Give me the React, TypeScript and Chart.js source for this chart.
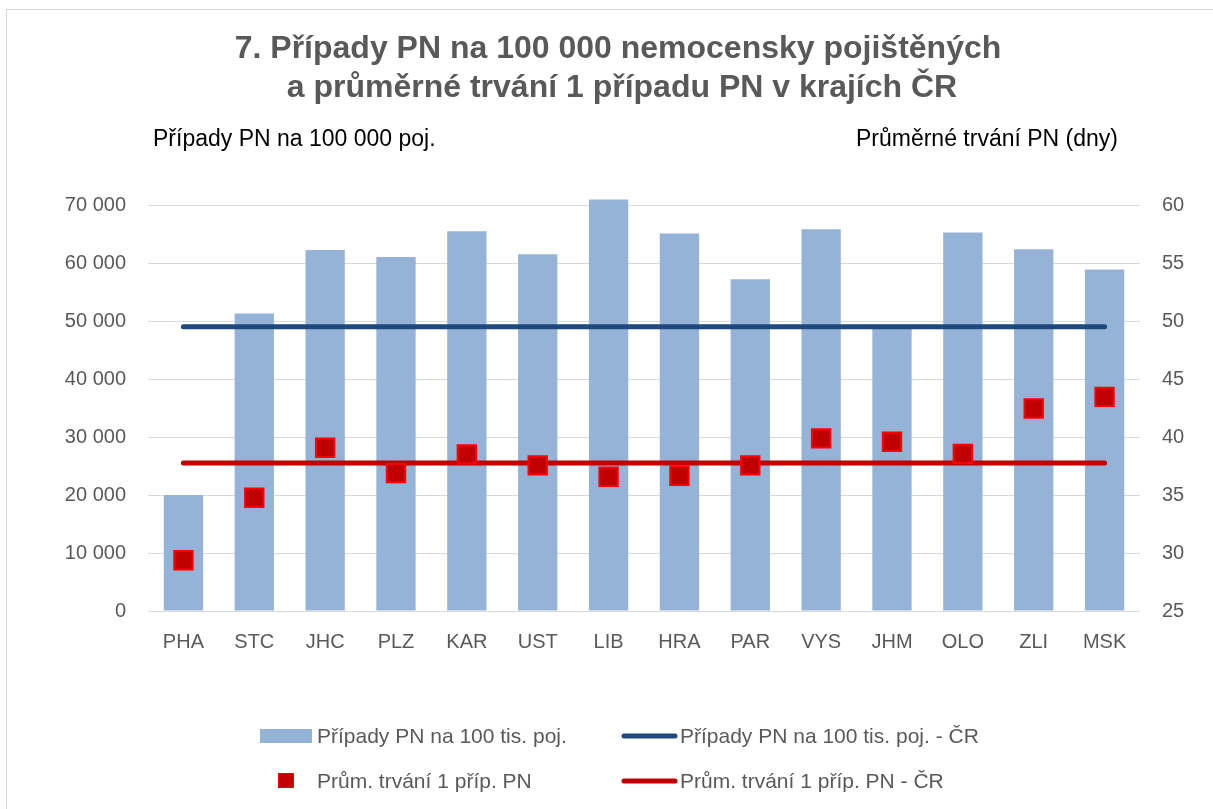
import React, { useEffect, useRef } from "react";
import { Chart, registerables } from "chart.js";

Chart.register(...registerables);

const categories = ["PHA", "STC", "JHC", "PLZ", "KAR", "UST", "LIB", "HRA", "PAR", "VYS", "JHM", "OLO", "ZLI", "MSK"];
const casesPer100k = [19980, 51300, 62250, 61050, 65470, 61510, 70930, 65070, 57200, 65820, 48900, 65240, 62370, 58870];
const casesCR = [49000, 49000, 49000, 49000, 49000, 49000, 49000, 49000, 49000, 49000, 49000, 49000, 49000, 49000];
const avgDuration = [29.37, 34.76, 39.07, 36.89, 38.5, 37.55, 36.57, 36.66, 37.55, 39.88, 39.59, 38.55, 42.46, 43.46];
const durationCR = [37.75, 37.75, 37.75, 37.75, 37.75, 37.75, 37.75, 37.75, 37.75, 37.75, 37.75, 37.75, 37.75, 37.75];

const titleLines = ["7. Případy PN na 100 000 nemocensky pojištěných", "a průměrné trvání 1 případu PN v krajích ČR"];
const leftAxisTitle = "Případy PN na 100 000 poj.";
const rightAxisTitle = "Průměrné trvání PN (dny)";
const seriesLabels = [
  "Případy PN na 100 tis. poj.",
  "Případy PN na 100 tis. poj. - ČR",
  "Prům. trvání 1 příp. PN",
  "Prům. trvání 1 příp. PN - ČR",
];

const FONT = "'Liberation Sans', Arial, sans-serif";
const TEXT = "#595959";
const BAR = "#95B3D7";
const BLUE = "#1F497D";
const RED = "#C00000";

const fmt = (v: number) => String(v).replace(/\B(?=(\d{3})+(?!\d))/g, " ");

const textPlugin = {
  id: "texts",
  afterDraw(chart: any) {
    const ctx = chart.ctx as CanvasRenderingContext2D;
    ctx.save();
    // Title
    ctx.fillStyle = TEXT;
    ctx.textAlign = "center";
    ctx.textBaseline = "alphabetic";
    ctx.font = `bold 32px ${FONT}`;
    ctx.fillText(titleLines[0], 618, 58);
    ctx.fillText(titleLines[1], 622, 97);
    // Axis titles
    ctx.fillStyle = "#000000";
    ctx.font = `23px ${FONT}`;
    ctx.textAlign = "left";
    ctx.fillText(leftAxisTitle, 153, 146);
    ctx.textAlign = "right";
    ctx.fillText(rightAxisTitle, 1118, 146);

    // Legend
    ctx.font = `21px ${FONT}`;
    ctx.textAlign = "left";
    ctx.textBaseline = "alphabetic";
    // row 1
    ctx.fillStyle = BAR;
    ctx.fillRect(260, 729, 52, 14);
    ctx.fillStyle = TEXT;
    ctx.fillText(seriesLabels[0], 317, 743);
    ctx.strokeStyle = BLUE;
    ctx.lineWidth = 5;
    ctx.lineCap = "round";
    ctx.beginPath();
    ctx.moveTo(624, 736);
    ctx.lineTo(675, 736);
    ctx.stroke();
    ctx.fillText(seriesLabels[1], 680, 743);
    // row 2
    ctx.fillStyle = RED;
    ctx.fillRect(279, 774, 14, 13);
    ctx.strokeStyle = "#FF0000";
    ctx.lineWidth = 1;
    ctx.strokeRect(278.5, 773.5, 15, 14);
    ctx.fillStyle = TEXT;
    ctx.fillText(seriesLabels[2], 317, 788);
    ctx.strokeStyle = RED;
    ctx.lineWidth = 5;
    ctx.lineCap = "round";
    ctx.beginPath();
    ctx.moveTo(624, 781);
    ctx.lineTo(675, 781);
    ctx.stroke();
    ctx.fillText(seriesLabels[3], 680, 788);
    ctx.restore();
  },
};

export default function App() {
  const ref = useRef<HTMLCanvasElement | null>(null);
  useEffect(() => {
    if (!ref.current) return;
    const chart = new Chart(ref.current, {
      type: "bar",
      data: {
        labels: categories,
        datasets: [
          {
            type: "line",
            label: seriesLabels[2],
            data: avgDuration,
            yAxisID: "y1",
            showLine: false,
            pointStyle: "rect",
            pointRadius: 13,
            pointHoverRadius: 13,
            pointBackgroundColor: RED,
            pointBorderColor: "#FF0000",
            pointBorderWidth: 2,
            order: 0,
          } as any,
          {
            type: "line",
            label: seriesLabels[3],
            data: durationCR,
            yAxisID: "y1",
            borderColor: RED,
            borderWidth: 5,
            borderCapStyle: "round",
            pointRadius: 0,
            order: 1,
          } as any,
          {
            type: "line",
            label: seriesLabels[1],
            data: casesCR,
            yAxisID: "y",
            borderColor: BLUE,
            borderWidth: 5,
            borderCapStyle: "round",
            pointRadius: 0,
            order: 2,
          } as any,
          {
            type: "bar",
            label: seriesLabels[0],
            data: casesPer100k,
            yAxisID: "y",
            backgroundColor: BAR,
            barPercentage: 0.555,
            categoryPercentage: 1,
            clip: false,
            order: 3,
          } as any,
        ],
      },
      options: {
        responsive: false,
        animation: false,
        layout: { padding: { top: 205, bottom: 158, left: 0, right: 0 } },
        plugins: {
          legend: { display: false },
          title: { display: false },
          tooltip: { enabled: false },
        },
        scales: {
          x: {
            offset: true,
            grid: { display: false, drawTicks: false },
            border: { display: false },
            ticks: { color: TEXT, font: { family: FONT, size: 20 }, padding: 19 },
            afterFit: (s: any) => { s.height = 40; },
          },
          y: {
            position: "left",
            min: 0,
            max: 70000,
            grid: { color: "#D9D9D9", lineWidth: 1, drawTicks: false },
            border: { display: false },
            ticks: {
              stepSize: 10000,
              color: TEXT,
              font: { family: FONT, size: 20 },
              padding: 22,
              callback: (v: any) => fmt(Number(v)),
            },
            afterFit: (s: any) => { s.width = 148; },
          },
          y1: {
            position: "right",
            min: 25,
            max: 60,
            grid: { display: false, drawTicks: false },
            border: { display: false },
            ticks: { stepSize: 5, color: TEXT, font: { family: FONT, size: 20 }, padding: 22 },
            afterFit: (s: any) => { s.width = 73; },
          },
        },
      } as any,
      plugins: [textPlugin],
    });
    return () => chart.destroy();
  }, []);

  return (
    <div style={{ position: "fixed", left: 0, top: 0, width: 1213, height: 809, background: "#fff", overflow: "hidden" }}>
      <div style={{ position: "absolute", left: 6, top: 9, width: 1300, height: 900, border: "1px solid #D9D9D9" }} />
      <canvas ref={ref} width={1213} height={809} style={{ position: "absolute", left: 0, top: 0 }} />
    </div>
  );
}
